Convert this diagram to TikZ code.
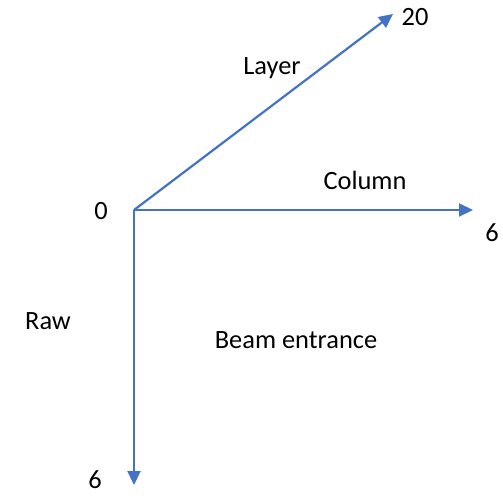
\documentclass[tikz,border=0pt]{standalone}
\usepackage{fontspec}
\setmainfont{Carlito}
\usepackage{tikz}
\usetikzlibrary{arrows.meta}
\definecolor{axisblue}{HTML}{4472C4}

\begin{document}
\begin{tikzpicture}[x=1pt,y=1pt,
  axisflow/.style={-{Triangle[length=14pt,width=13pt]},draw=axisblue,
    line width=2.2pt},
  axislabel/.style={font=\fontsize{26.4}{31}\selectfont,inner sep=0pt,
    text=black}
]
  \useasboundingbox (0,0) rectangle (503,496);
  \coordinate (origin) at (134,286);
  \coordinate (layerend) at (393,482);
  \coordinate (columnend) at (473,286);
  \coordinate (rawend) at (134,11);
  \draw[axisflow] (origin) -- (layerend);
  \draw[axisflow] (origin) -- (columnend);
  \draw[axisflow] (origin) -- (rawend);

  \node[axislabel] (zero) at (101,285) {0};
  \node[axislabel] (layermax) at (415,479) {20};
  \node[axislabel] (layer) at (272,428) {Layer};
  \node[axislabel] (column) at (365,316) {Column};
  \node[axislabel] (columnmax) at (492,263) {6};
  \node[axislabel] (raw) at (48,175) {Raw};
  \node[axislabel] (beam) at (296,156) {Beam entrance};
  \node[axislabel] (rawmax) at (95,16) {6};
\end{tikzpicture}
\end{document}
